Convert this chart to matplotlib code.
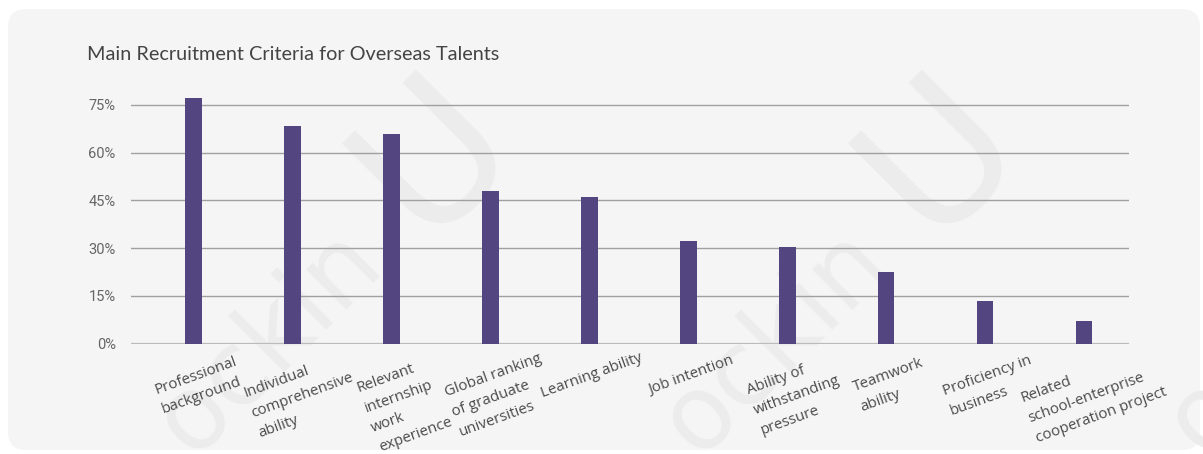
import matplotlib.pyplot as plt
from matplotlib.patches import FancyBboxPatch

criteria = [
    "Professional\nbackground",
    "Individual\ncomprehensive\nability",
    "Relevant\ninternship\nwork\nexperience",
    "Global ranking\nof graduate\nuniversities",
    "Learning ability",
    "Job intention",
    "Ability of\nwithstanding\npressure",
    "Teamwork\nability",
    "Proficiency in\nbusiness",
    "Related\nschool-enterprise\ncooperation project",
]
share = [77.1, 68.4, 65.9, 47.9, 46.0, 32.2, 30.4, 22.6, 13.4, 7.2]
y_ticks = [0, 15, 30, 45, 60, 75]

W, H = 1203, 454
fig = plt.figure(figsize=(W / 100, H / 100), dpi=100)
fig.patch.set_facecolor("white")

# light rounded card behind the chart
card = FancyBboxPatch((8, 4), 1192, 441, boxstyle="round,pad=0,rounding_size=18",
                      transform=None, facecolor="#f5f5f5", edgecolor="none", zorder=-2)
fig.patches.append(card)

# faint tiled watermark
wm = "#ececec"
for cx in [-75, 430, 936, 1441]:
    fig.text((cx - 161) / W, 1 - 342 / H, "ockin", rotation=45, fontsize=74,
             color=wm, ha="center", va="center",
             rotation_mode="anchor", zorder=-1)
    fig.text((cx + 5) / W, 1 - 155 / H, "U", rotation=45, fontsize=135,
             color=wm, ha="center", va="center",
             rotation_mode="anchor", zorder=-1)

ax = fig.add_axes([131 / W, (H - 343.5) / H, (1129 - 131) / W, 254.4 / H])
ax.set_facecolor("none")

x = list(range(len(share)))
ax.bar(x, share, width=0.17, color="#524580", zorder=3)

ax.set_xlim(-0.63, 9.455)
ax.set_ylim(0, 80)
ax.set_yticks(y_ticks)
ax.set_yticklabels([f"{v}%" for v in y_ticks], fontfamily="Roboto", fontsize=10.5, color="#666666")
ax.tick_params(axis="y", length=0, pad=11)
ax.grid(axis="y", color="#a0a0a0", linewidth=1, zorder=1)
ax.axhline(0, color="#bbbbbb", linewidth=1.6, zorder=2)
for s in ax.spines.values():
    s.set_visible(False)

# category names, wrapped and tilted under each bar
ax.set_xticks(x)
ax.set_xticklabels([])
ax.tick_params(axis="x", length=0)
for i, lab in enumerate(criteria):
    ax.annotate(lab, xy=(i, 0), xycoords=("data", "data"), xytext=(0, -18),
                textcoords="offset points", rotation=20, rotation_mode="anchor",
                ha="center", va="top", multialignment="left",
                fontfamily="Open Sans", fontsize=10.8, color="#4a4a4a",
                linespacing=1.55, annotation_clip=False)

fig.text(87 / W, 1 - 60 / H, "Main Recruitment Criteria for Overseas Talents",
         fontfamily="Lato", fontsize=14.3, color="#444444",
         ha="left", va="baseline")

fig.savefig("out.png", dpi=100)
